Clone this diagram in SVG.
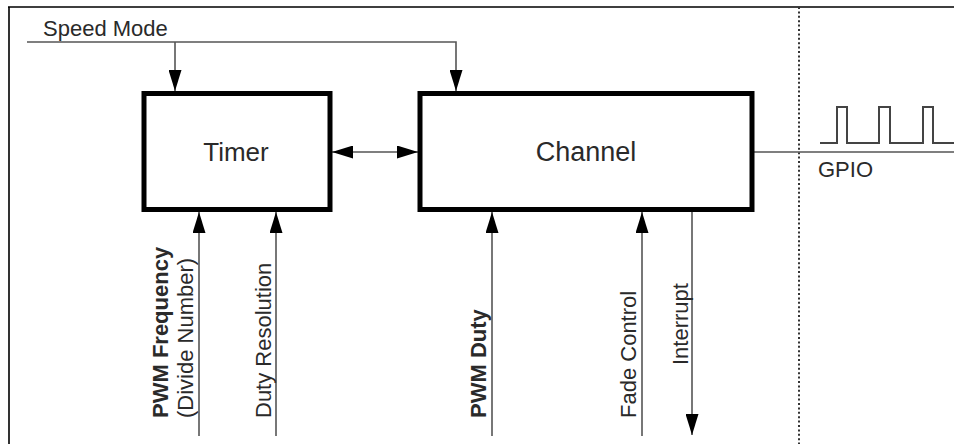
<svg xmlns="http://www.w3.org/2000/svg" width="954" height="444" viewBox="0 0 954 444">
<style>
text{font-family:"Liberation Sans",Arial,sans-serif;fill:#2a2a2a;}
.box{fill:#fff;stroke:#000;stroke-width:5;}
.ln{fill:none;stroke:#555;stroke-width:1.6;}
.lbl{font-size:22px;}
.b{font-weight:bold;}
</style>
<defs>
<marker id="ah" markerUnits="userSpaceOnUse" markerWidth="21" markerHeight="13" viewBox="0 0 21 13" refX="21" refY="6.5" orient="auto-start-reverse">
<path d="M0,0 L21,6.5 L0,13 Z" fill="#000"/>
</marker>
</defs>
<rect width="954" height="444" fill="#fff"/>
<path d="M8,7 H954 M9,7 V444" fill="none" stroke="#000" stroke-width="1.6"/>
<line x1="799" y1="7" x2="799" y2="444" stroke="#333" stroke-width="2" stroke-dasharray="2,2.4"/>
<g id="connectors">
<path class="ln" d="M27,42 H456 V91" marker-end="url(#ah)"/>
<path class="ln" d="M175,42 V91" marker-end="url(#ah)"/>
<line class="ln" x1="332" y1="152" x2="418" y2="152" marker-start="url(#ah)" marker-end="url(#ah)"/>
<line class="ln" x1="754" y1="152" x2="954" y2="152"/>
<line class="ln" x1="199" y1="436" x2="199" y2="212" marker-end="url(#ah)"/>
<line class="ln" x1="276" y1="436" x2="276" y2="212" marker-end="url(#ah)"/>
<line class="ln" x1="492" y1="436" x2="492" y2="212" marker-end="url(#ah)"/>
<line class="ln" x1="642" y1="436" x2="642" y2="212" marker-end="url(#ah)"/>
<line class="ln" x1="692" y1="212" x2="692" y2="435" marker-end="url(#ah)"/>
</g>
<path d="M820,143 H837 V107 H847 V143 H879 V107 H890 V143 H923 V107 H933 V143 H954" fill="none" stroke="#444" stroke-width="2"/>
<g id="timer">
<rect class="box" x="144" y="93.5" width="186" height="116"/>
<text x="236" y="161" font-size="26" text-anchor="middle">Timer</text>
</g>
<g id="channel">
<rect class="box" x="420" y="93.5" width="332" height="116"/>
<text x="586" y="161" font-size="27" text-anchor="middle">Channel</text>
</g>
<text x="43" y="36" class="lbl">Speed Mode</text>
<text x="818" y="177" class="lbl">GPIO</text>
<text class="lbl b" transform="translate(168,418) rotate(-90)">PWM Frequency</text>
<text class="lbl" transform="translate(193,418) rotate(-90)">(Divide Number)</text>
<text class="lbl" transform="translate(271,418) rotate(-90)">Duty Resolution</text>
<text class="lbl b" transform="translate(486,418) rotate(-90)">PWM Duty</text>
<text class="lbl" transform="translate(636,418) rotate(-90)">Fade Control</text>
<text class="lbl" transform="translate(688,365) rotate(-90)">Interrupt</text>
</svg>
